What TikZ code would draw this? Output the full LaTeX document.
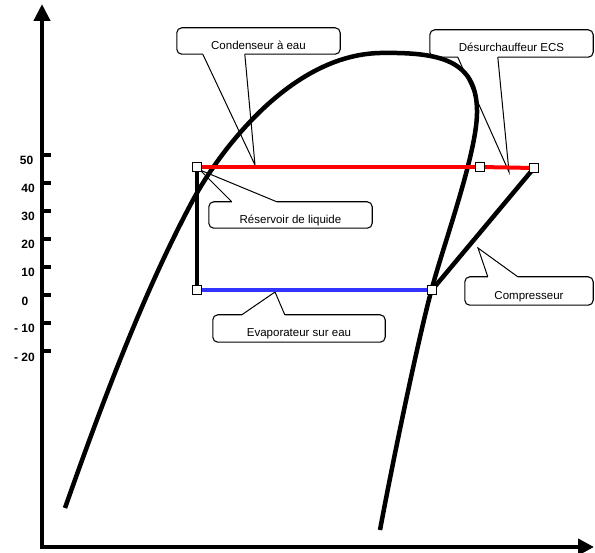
\documentclass[tikz,border=0pt]{standalone}
\usepackage{fontspec}
\setmainfont{Liberation Sans}
\usetikzlibrary{arrows.meta,calc,backgrounds}
\definecolor{cred}{RGB}{255,0,0}
\definecolor{cblue}{RGB}{51,51,255}
\begin{document}
\begin{tikzpicture}[x=1pt,y=-1pt,
  thickline/.style={line width=4.5pt},
  sq/.style={draw=black, fill=white, line width=1.4pt, minimum size=9pt, inner sep=0pt, rectangle},
  box/.style={inner sep=0pt, font=\fontsize{11.5}{12}\selectfont, text height=17pt, text depth=0.6pt},
  boxline/.style={line width=1.1pt, rounded corners=5pt},
  tail/.style={line width=1pt, line join=miter},
  tickmark/.style={line width=4pt},
  ticklabel/.style={anchor=east, font=\fontsize{12}{12}\bfseries\selectfont, inner sep=0pt}]
\useasboundingbox (0,0) rectangle (595,553);

% axes
\draw[line width=4.5pt, {Triangle[width=16pt,length=17pt]}-{Triangle[width=16pt,length=16pt]}] (42,4) -- (42,547) -- (594,547);

% ticks and labels
\foreach \yy in {155,183,211,239,267,295,323,351}
  \draw[tickmark] (42,\yy) -- (51,\yy);
\node[ticklabel] (l50) at (33.5,160) {50};
\node[ticklabel] (l40) at (35,188) {40};
\node[ticklabel] (l30) at (35,216) {30};
\node[ticklabel] (l20) at (35,244) {20};
\node[ticklabel] (l10) at (35,272) {10};
\node[ticklabel] (l0) at (28.5,301) {0};
\node[ticklabel] (lm10) at (35,328) {- 10};
\node[ticklabel] (lm20) at (35,357) {- 20};

% cycle points
\node[sq] (A) at (197,167) {};
\node[sq] (B) at (480,167) {};
\node[sq] (C) at (534,168) {};
\node[sq] (D) at (197,290) {};
\node[sq] (E) at (432,290) {};

% callout boxes
\node[box, minimum width=163pt, minimum height=26pt] (cond) at (258.5,41) {Condenseur à eau};
\node[box, minimum width=163pt, minimum height=27pt] (desur) at (511.5,43.5) {Désurchauffeur ECS};
\node[box, minimum width=163pt, minimum height=26pt] (res) at (290.5,215) {Réservoir de liquide};
\node[box, minimum width=172pt, minimum height=27pt] (evap) at (299,328.5) {Evaporateur sur eau};
\node[box, minimum width=128pt, minimum height=28pt] (comp) at (529,291) {Compresseur};

\coordinate (condtip) at (255,165);
\coordinate (desurtip) at (509,172);
\coordinate (restip) at (200,170);
\coordinate (evaptip) at (275,292);
\coordinate (comptip) at (478,248);

\begin{scope}[on background layer]
  % callout outlines
  \draw[boxline] ($(cond.south west)+(26,0)$) -- (cond.south west) -- (cond.north west) -- (cond.north east) -- (cond.south east) -- ($(cond.south west)+(68,0)$);
  \draw[tail] ($(cond.south west)+(26,0)$) -- (condtip) -- ($(cond.south west)+(68,0)$);
  \draw[boxline] ($(desur.south west)+(28,0)$) -- (desur.south west) -- (desur.north west) -- (desur.north east) -- (desur.south east) -- ($(desur.south west)+(68,0)$);
  \draw[tail] ($(desur.south west)+(28,0)$) -- (desurtip) -- ($(desur.south west)+(68,0)$);
  \draw[boxline] ($(res.north west)+(68,0)$) -- (res.north east) -- (res.south east) -- (res.south west) -- (res.north west) -- ($(res.north west)+(23,0)$);
  \draw[tail] ($(res.north west)+(23,0)$) -- (restip) -- ($(res.north west)+(68,0)$);
  \draw[boxline] ($(evap.north west)+(72,0)$) -- (evap.north east) -- (evap.south east) -- (evap.south west) -- (evap.north west) -- ($(evap.north west)+(29,0)$);
  \draw[tail] ($(evap.north west)+(29,0)$) -- (evaptip) -- ($(evap.north west)+(72,0)$);
  \draw[boxline] ($(comp.north west)+(53,0)$) -- (comp.north east) -- (comp.south east) -- (comp.south west) -- (comp.north west) -- ($(comp.north west)+(23,0)$);
  \draw[tail] ($(comp.north west)+(23,0)$) -- (comptip) -- ($(comp.north west)+(53,0)$);

  % saturation dome
  \draw[thickline] (65,508) .. controls (110,380) and (150,280) .. (193,200)
    .. controls (219,152) and (290,55) .. (380,53)
    .. controls (440,52) and (476,60) .. (477,110)
    .. controls (478,150) and (445,240) .. (432,288)
    .. controls (419,336) and (395,450) .. (380,530);

  % cycle lines
  \draw[thickline, cred] (A.center) -- (B.center);
  \draw[line width=4pt, cred] (B.center) -- (C.center);
  \draw[thickline, cblue] (D.center) -- (E.center);
  \draw[thickline] (A.center) -- (D.center);
  \draw[thickline] (E.center) -- (C.center);
\end{scope}
\end{tikzpicture}
\end{document}
